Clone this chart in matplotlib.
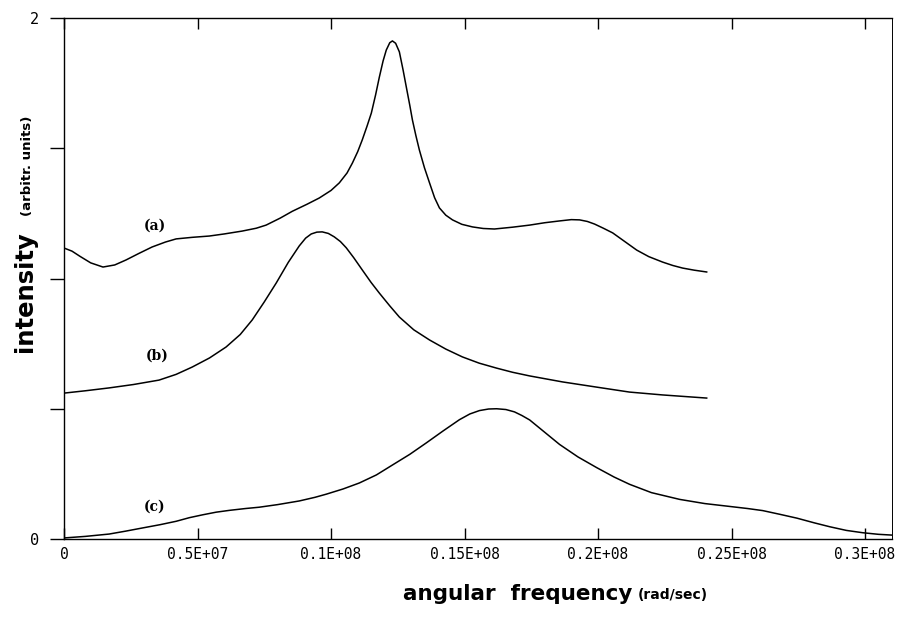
import numpy as np
import matplotlib
matplotlib.use('Agg')
import matplotlib.pyplot as plt

# Spectra (x in units of 1E+07 rad/sec, y arbitrary)
xa = [0.000, 0.030, 0.060, 0.100, 0.146, 0.190, 0.232, 0.280, 0.330, 0.380, 0.420,
      0.480, 0.544, 0.600, 0.667, 0.720, 0.757, 0.810, 0.855, 0.910, 0.956, 1.000,
      1.031, 1.060, 1.080, 1.100, 1.117, 1.135, 1.151, 1.167, 1.181, 1.195, 1.207,
      1.220, 1.230, 1.242, 1.256, 1.270, 1.282, 1.295, 1.305, 1.318, 1.331, 1.350,
      1.369, 1.388, 1.406, 1.430, 1.455, 1.490, 1.530, 1.570, 1.612, 1.680, 1.744,
      1.800, 1.856, 1.900, 1.931, 1.960, 1.987, 2.020, 2.055, 2.100, 2.145, 2.190,
      2.242, 2.280, 2.317, 2.360, 2.407]
ya = [1.117, 1.105, 1.085, 1.060, 1.044, 1.052, 1.071, 1.096, 1.121, 1.140, 1.152,
      1.158, 1.163, 1.171, 1.182, 1.193, 1.205, 1.232, 1.258, 1.285, 1.309, 1.338,
      1.367, 1.405, 1.443, 1.487, 1.532, 1.585, 1.635, 1.705, 1.773, 1.835, 1.877,
      1.905, 1.912, 1.903, 1.870, 1.800, 1.735, 1.665, 1.608, 1.548, 1.493, 1.425,
      1.367, 1.310, 1.271, 1.243, 1.225, 1.208, 1.198, 1.192, 1.190, 1.197, 1.205,
      1.214, 1.221, 1.226, 1.225, 1.219, 1.209, 1.193, 1.175, 1.142, 1.109, 1.084,
      1.063, 1.050, 1.040, 1.032, 1.025]

xb = [0.000, 0.080, 0.169, 0.260, 0.356, 0.420, 0.480, 0.545, 0.607, 0.660, 0.705,
      0.750, 0.795, 0.840, 0.881, 0.905, 0.926, 0.947, 0.967, 0.990, 1.012, 1.035,
      1.057, 1.085, 1.117, 1.150, 1.181, 1.220, 1.256, 1.310, 1.369, 1.430, 1.492,
      1.555, 1.620, 1.680, 1.744, 1.867, 1.995, 2.118, 2.242, 2.407]
yb = [0.560, 0.569, 0.580, 0.593, 0.610, 0.632, 0.660, 0.695, 0.737, 0.785, 0.841,
      0.910, 0.983, 1.062, 1.125, 1.155, 1.171, 1.178, 1.179, 1.173, 1.160, 1.142,
      1.118, 1.080, 1.033, 0.985, 0.944, 0.895, 0.852, 0.803, 0.764, 0.729, 0.699,
      0.675, 0.656, 0.640, 0.626, 0.603, 0.583, 0.564, 0.553, 0.541]

xc = [0.000, 0.080, 0.169, 0.230, 0.292, 0.360, 0.420, 0.470, 0.520, 0.570, 0.620,
      0.680, 0.731, 0.800, 0.881, 0.940, 0.982, 1.045, 1.106, 1.170, 1.230, 1.295,
      1.357, 1.420, 1.481, 1.520, 1.556, 1.590, 1.620, 1.655, 1.687, 1.715, 1.744,
      1.800, 1.856, 1.925, 1.995, 2.060, 2.118, 2.200, 2.306, 2.400, 2.493, 2.560,
      2.617, 2.680, 2.745, 2.810, 2.868, 2.930, 2.992, 3.050, 3.101]
yc = [0.004, 0.010, 0.019, 0.030, 0.042, 0.055, 0.068, 0.082, 0.093, 0.103, 0.110,
      0.117, 0.122, 0.132, 0.146, 0.160, 0.172, 0.192, 0.215, 0.246, 0.284, 0.325,
      0.369, 0.415, 0.458, 0.480, 0.493, 0.499, 0.500, 0.497, 0.488, 0.474, 0.457,
      0.410, 0.363, 0.315, 0.274, 0.238, 0.210, 0.178, 0.152, 0.136, 0.125, 0.117,
      0.109, 0.095, 0.080, 0.062, 0.047, 0.033, 0.024, 0.018, 0.015]

xticks = [0, 0.5e7, 1e7, 1.5e7, 2e7, 2.5e7, 3e7]
xticklabels = ['0', '0.5E+07', '0.1E+08', '0.15E+08', '0.2E+08', '0.25E+08', '0.3E+08']
yticks = [0, 0.5, 1.0, 1.5, 2.0]
yticklabels = ['0', '', '', '', '2']

W, H = 905, 619
fig = plt.figure(figsize=(W/100, H/100), dpi=100)
ax = fig.add_axes([64/W, 1-539/H, (892-64)/W, (539-18)/H])

for xs, ys in [(xa, ya), (xb, yb), (xc, yc)]:
    ax.plot(np.array(xs)*1e7, ys, color='black', lw=1.1)

ax.set_xlim(0, 3.101e7)
ax.set_ylim(0, 2)
ax.set_xticks(xticks)
ax.set_xticklabels(xticklabels, family='DejaVu Sans Mono', fontsize=10.5)
ax.set_yticks(yticks)
ax.set_yticklabels(yticklabels, family='DejaVu Sans Mono', fontsize=11)
ax.tick_params(axis='x', direction='in', length=8, width=1, top=True, pad=6)
ax.tick_params(axis='y', direction='out', length=10, width=1, pad=8)
for s in ax.spines.values():
    s.set_linewidth(1.0)
ax.spines['right'].set_linestyle((0, (2, 1)))
ax.spines['right'].set_linewidth(0.7)

# curve labels
for txt, (px, py) in [('(a)', (155, 226)), ('(b)', (157, 356)), ('(c)', (155, 507))]:
    fig.text(px/W, 1-py/H, txt, ha='center', va='center', fontsize=10,
             fontweight='bold', family='DejaVu Serif')

# axis titles
fig.text(403/W, 1-594/H, 'angular  frequency', ha='left', va='center',
         fontsize=15.5, fontweight='heavy', family='DejaVu Sans')
fig.text(638/W, 1-595/H, '(rad/sec)', ha='left', va='center',
         fontsize=10, fontweight='bold', family='DejaVu Sans')
fig.text(25/W, 1-352/H, 'intensity', ha='center', va='bottom', rotation=90,
         fontsize=17.5, fontweight='heavy', family='DejaVu Sans')
fig.text(27/W, 1-216/H, '(arbitr. units)', ha='center', va='bottom', rotation=90,
         fontsize=9.5, fontweight='bold', family='DejaVu Sans')

fig.savefig('out.png', dpi=100)
